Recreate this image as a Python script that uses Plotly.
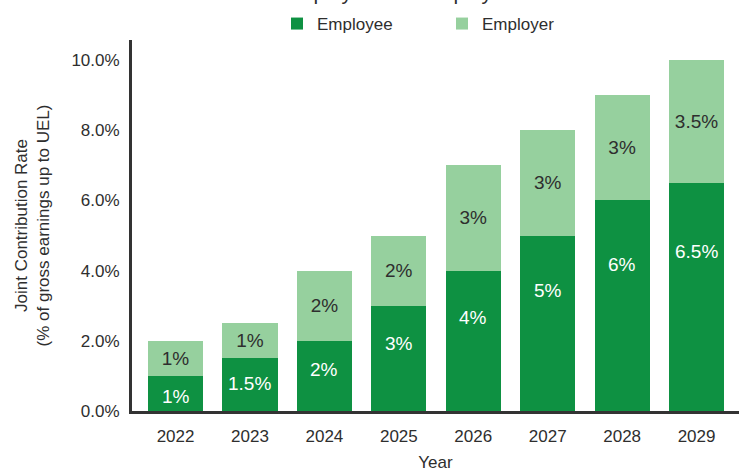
import plotly.graph_objects as go

years = ["2022", "2023", "2024", "2025", "2026", "2027", "2028", "2029"]
employee = [1, 1.5, 2, 3, 4, 5, 6, 6.5]
employer = [1, 1, 2, 2, 3, 3, 3, 3.5]
y_ticks = [0, 2, 4, 6, 8, 10]
y_tick_labels = ["0.0%", "2.0%", "4.0%", "6.0%", "8.0%", "10.0%"]

DARK = "#0e9142"
LIGHT = "#96d09e"
TXT = "#2e2e2e"
FONT = "Liberation Sans, Arial, sans-serif"

fig = go.Figure()
fig.add_trace(go.Bar(
    x=years, y=employee, name="Employee", marker=dict(color=DARK, line=dict(width=0)),
    hoverinfo="skip",
))
fig.add_trace(go.Bar(
    x=years, y=employer, name="Employer", marker=dict(color=LIGHT, line=dict(width=0)),
    text=[f"{v:g}%" for v in employer], textposition="inside",
    insidetextanchor="middle", textangle=0,
    textfont=dict(family=FONT, size=19, color=TXT), hoverinfo="skip",
))

# employee labels sit somewhat above the middle of their segment, as in the original
for i, v in enumerate(employee):
    fig.add_annotation(
        x=i, y=0.75 * v - 0.33, xref="x", yref="y", text=f"{v:g}%",
        showarrow=False, font=dict(family=FONT, size=19, color="white"),
    )

# chart title, mostly cropped off the top of the picture (as in the original)
fig.add_annotation(
    x=(280 - 132) / 607, y=(411 - 6) / 371, xref="paper", yref="paper",
    xanchor="left", yanchor="bottom", showarrow=False,
    text="Employee and Employer Contributions",
    font=dict(family=FONT, size=21, color=TXT),
)

fig.update_layout(
    width=739, height=472,
    margin=dict(l=132, r=0, t=40, b=61, autoexpand=False),
    barmode="stack", bargap=0.26,
    plot_bgcolor="white", paper_bgcolor="white",
    font=dict(family=FONT, size=17, color=TXT),
    showlegend=True,
    legend=dict(
        orientation="h", x=(442 - 132) / 607, xanchor="center",
        y=(411 - 24) / 371, yanchor="middle",
        entrywidth=120, entrywidthmode="pixels",
        font=dict(family=FONT, size=17, color=TXT),
        traceorder="normal", itemclick=False, itemdoubleclick=False,
    ),
)
fig.update_xaxes(
    type="category", range=[-0.585, 7.57], automargin=False,
    showline=True, linecolor="#333333", linewidth=3,
    showgrid=False, ticks="", ticklabelstandoff=8,
    tickfont=dict(family=FONT, size=17, color=TXT),
    title=dict(text="Year", standoff=21, font=dict(family=FONT, size=17, color=TXT)),
)
fig.update_yaxes(
    range=[0, 10.57], tickvals=y_ticks, ticktext=y_tick_labels, automargin=False,
    showline=True, linecolor="#333333", linewidth=3,
    showgrid=False, zeroline=False, ticks="", ticklabelstandoff=6,
    tickfont=dict(family=FONT, size=17, color=TXT),
    title=dict(text="Joint Contribution Rate<br>(% of gross earnings up to UEL)",
               standoff=18, font=dict(family=FONT, size=17, color=TXT)),
)

fig.write_html("out.html", config={"displayModeBar": False})
